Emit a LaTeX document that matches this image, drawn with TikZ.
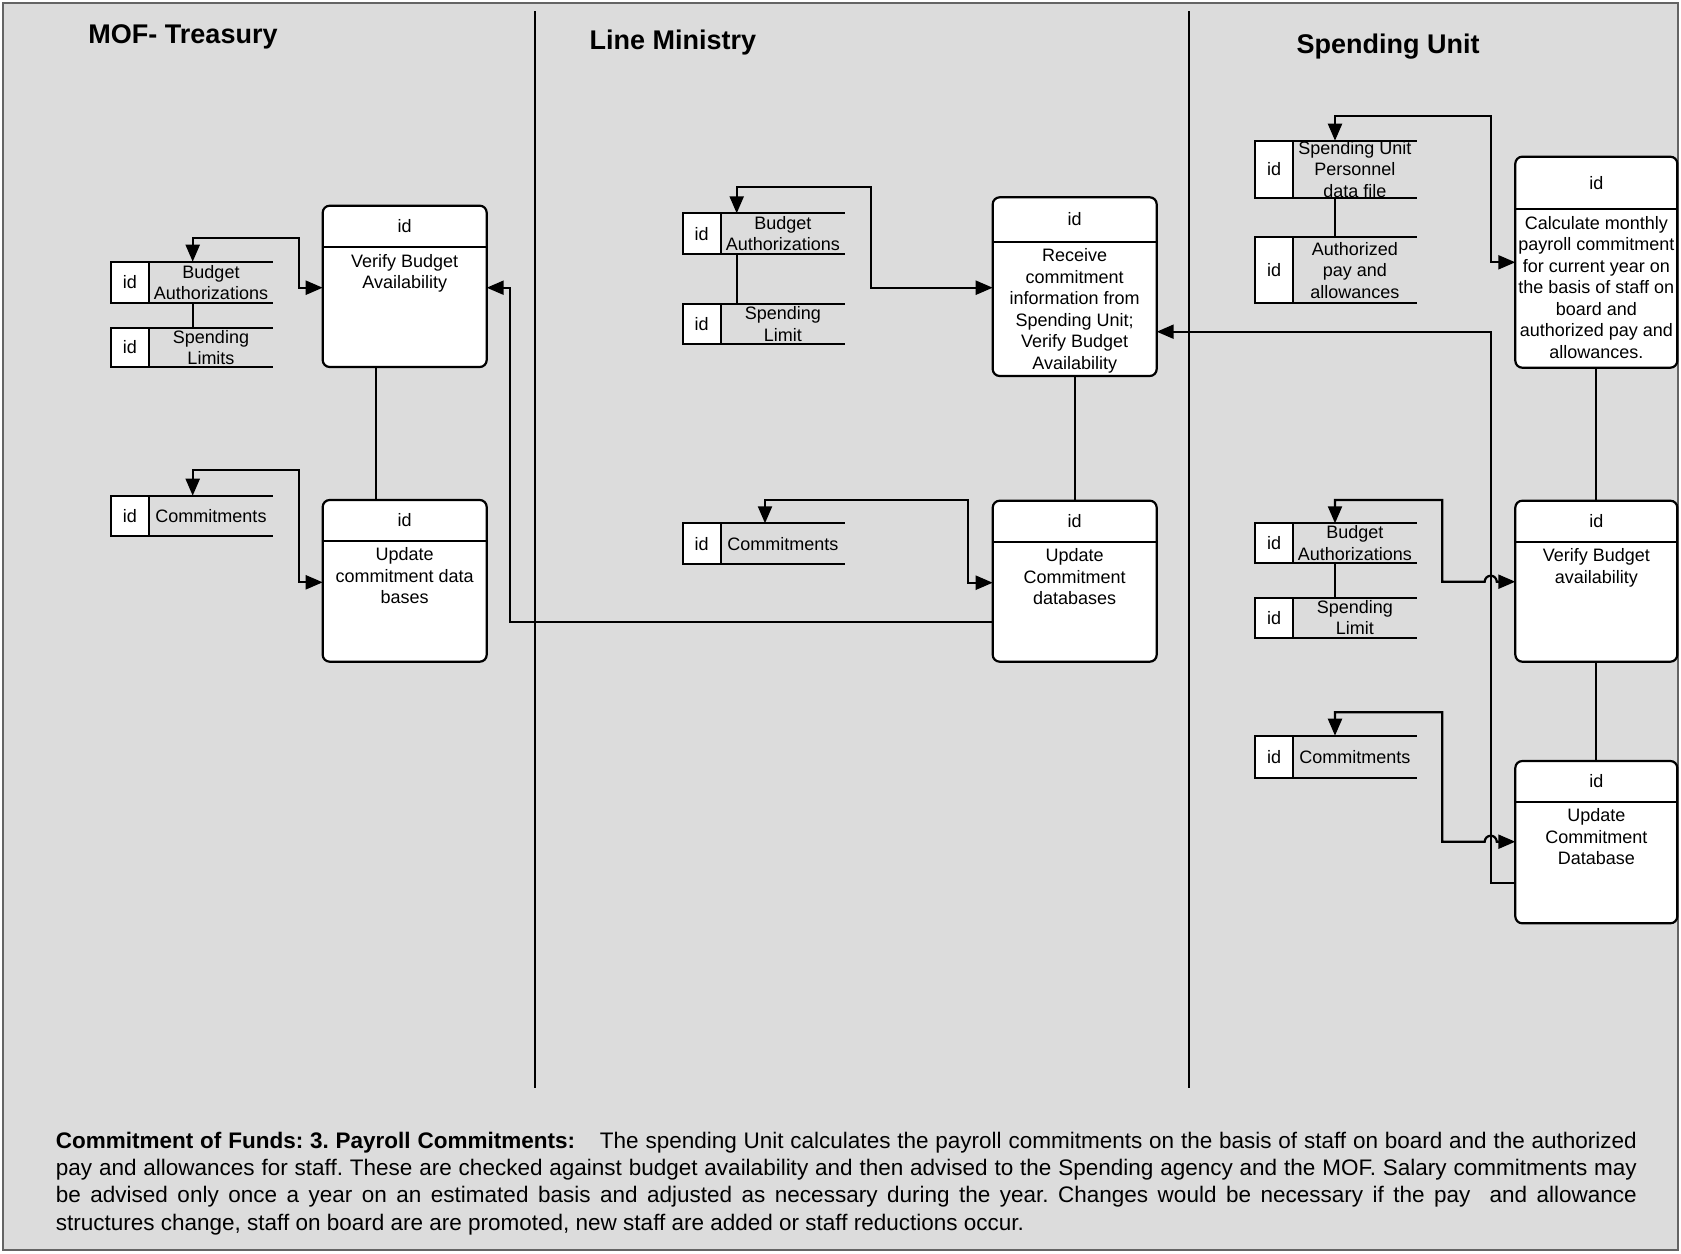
\documentclass[tikz,border=0pt]{standalone}
\usepackage{fontspec}
\setmainfont{Liberation Sans}
\usetikzlibrary{arrows.meta,calc}

\definecolor{panel}{RGB}{220,220,220}
\definecolor{frameline}{RGB}{100,100,100}

\tikzset{
  wire/.style={line width=2.2pt},
  flow/.style={wire, -{Triangle[length=17pt,width=14pt]}},
  twoway/.style={wire, {Triangle[length=17pt,width=14pt]}-{Triangle[length=17pt,width=14pt]}},
  process/.style={draw, line width=2.2pt, fill=white, rounded corners=7pt, inner sep=0pt, outer sep=0pt},
  bodytext/.style={font=\fontsize{18}{21.5}\selectfont, align=center, inner sep=0pt},
  storearea/.style={inner sep=0pt, outer sep=0pt},
  storeid/.style={draw, line width=2.2pt, fill=white, inner sep=0pt, outer sep=0pt,
    minimum width=38pt, font=\fontsize{18}{21.5}\selectfont},
  lanetitle/.style={font=\fontsize{27}{32}\selectfont\bfseries, inner sep=0pt},
}

% data store: name, left, top, width, height, label
\newcommand\dstore[6]{%
  \node[storearea, anchor=north west, minimum width=#4pt, minimum height=#5pt] (#1) at (#2,#3) {};
  \node[storeid, anchor=north west, minimum height=#5pt] (#1-id) at (#1.north west) {id};
  \draw[wire] (#1.north west) -- (#1.north east) (#1.south west) -- (#1.south east);
  \node[bodytext] (#1-name) at ($(#1-id.east)!0.5!(#1.east)$) {#6};
}

% process box: name, left, top, width, height, header height, text
\newcommand\procbox[7]{%
  \node[process, anchor=north west, minimum width=#4pt, minimum height=#5pt] (#1) at (#2,#3) {};
  \draw[wire] ([yshift=-#6pt]#1.north west) -- ([yshift=-#6pt]#1.north east);
  \node[bodytext] (#1-id) at ([yshift=-0.5*#6pt]#1.north) {id};
  \node[bodytext, anchor=north] (#1-text) at ([yshift=-#6pt-6.8pt]#1.north) {#7};
}

\begin{document}
\begin{tikzpicture}[x=1pt,y=-1pt]
  \useasboundingbox (0,0) rectangle (1681,1253);
  \fill[white] (0,0) rectangle (1681,1253);
  \draw[frameline, fill=panel, line width=2.5pt] (3,3) rectangle (1678,1250);

  % swimlane separators
  \draw[wire] (535,11) -- (535,1088);
  \draw[wire] (1189,11) -- (1189,1088);

  % lane titles
  \node[lanetitle, anchor=base] (titleMOF) at (183,43.7) {MOF- Treasury};
  \node[lanetitle, anchor=base] (titleLM) at (673,49.4) {Line Ministry};
  \node[lanetitle, anchor=base] (titleSU) at (1388,53.7) {Spending Unit};

  % ---- MOF - Treasury ----
  \procbox{mofVerify}{322.7}{205.7}{164}{161.3}{41.6}{Verify Budget\\Availability}
  \procbox{mofUpdate}{322.7}{500}{164}{161.7}{40.7}{Update\\commitment data\\bases}
  \dstore{mofBA}{111}{261.7}{162}{41.6}{Budget\\Authorizations}
  \dstore{mofSL}{111}{327.7}{162}{39.6}{Spending\\Limits}
  \dstore{mofCom}{111}{495.7}{162}{40}{Commitments}

  % ---- Line Ministry ----
  \procbox{lmReceive}{992.7}{197.3}{164}{178.7}{44.4}{Receive\\commitment\\information from\\Spending Unit;\\Verify Budget\\Availability}
  \procbox{lmUpdate}{992.7}{500.7}{164}{161}{41}{Update\\Commitment\\databases}
  \dstore{lmBA}{682.7}{213.3}{162.3}{40.7}{Budget\\Authorizations}
  \dstore{lmSL}{682.7}{304}{162.3}{40}{Spending\\Limit}
  \dstore{lmCom}{682.7}{523.3}{162.3}{40.7}{Commitments}

  % ---- Spending Unit ----
  \procbox{suCalc}{1515.3}{156.7}{162}{211}{52.6}{Calculate monthly\\payroll commitment\\for current year on\\the basis of staff on\\board and\\authorized pay and\\allowances.}
  \procbox{suVerify}{1515.3}{500.7}{162}{161}{41}{Verify Budget\\availability}
  \procbox{suUpdate}{1515.3}{761}{162}{162.3}{40.7}{Update\\Commitment\\Database}
  \dstore{suPers}{1255}{140.7}{161.7}{57}{Spending Unit\\Personnel\\data file}
  \dstore{suPay}{1255}{237.3}{161.7}{66}{Authorized\\pay and\\allowances}
  \dstore{suBA}{1255}{523.3}{161.7}{40}{Budget\\Authorizations}
  \dstore{suSL}{1255}{597.7}{161.7}{40}{Spending\\Limit}
  \dstore{suCom}{1255}{735.7}{161.7}{42}{Commitments}

  % ---- connectors: MOF ----
  \draw[wire] ([xshift=81.7pt]mofBA.south west) -- ([xshift=81.7pt]mofSL.north west);
  \draw[twoway] ([xshift=81.7pt]mofBA.north west) |- (299,237.7) |- ([yshift=-82pt]mofVerify.north west);
  \draw[twoway] ([xshift=81.7pt]mofCom.north west) |- (299,470) |- ([yshift=-82.3pt]mofUpdate.north west);
  \draw[wire] ([xshift=53.3pt]mofVerify.south west) -- ([xshift=53.3pt]mofUpdate.north west);

  % ---- connectors: Line Ministry ----
  \draw[wire] ([xshift=54pt]lmBA.south west) -- ([xshift=54pt]lmSL.north west);
  \draw[twoway] ([xshift=54pt]lmBA.north west) |- (871,187.3) |- ([yshift=-90.4pt]lmReceive.north west);
  \draw[twoway] ([xshift=82.3pt]lmCom.north west) |- (968.3,500) |- ([yshift=-82pt]lmUpdate.north west);
  \draw[wire] (lmReceive.south) -- (lmUpdate.north);
  \draw[flow] ([yshift=-121pt]lmUpdate.north west) -| (510,287.7) -- ([yshift=-82pt]mofVerify.north east);

  % ---- connectors: Spending Unit ----
  \draw[wire] ([xshift=80pt]suPers.south west) -- ([xshift=80pt]suPay.north west);
  \draw[twoway] ([xshift=80pt]suPers.north west) |- (1490.7,115.7) |- ([yshift=-105.6pt]suCalc.north west);
  \draw[wire] ([xshift=80pt]suBA.south west) -- ([xshift=80pt]suSL.north west);
  \draw[twoway] ([xshift=80pt]suBA.north west) |- (1442.3,500) |- (1484.7,581.7)
    arc[start angle=180, end angle=0, radius=6pt] -- ([yshift=-81pt]suVerify.north west);
  \draw[twoway] ([xshift=80pt]suCom.north west) |- (1442.3,712.3) |- (1484.7,841.7)
    arc[start angle=180, end angle=0, radius=6pt] -- ([yshift=-80.7pt]suUpdate.north west);
  \draw[wire] (suCalc.south) -- (suVerify.north);
  \draw[wire] (suVerify.south) -- (suUpdate.north);
  \draw[flow] ([yshift=-122.3pt]suUpdate.north west) -| (1490.7,331.7) -- ([yshift=-134.4pt]lmReceive.north east);

  % ---- caption ----
  \node[anchor=north west, inner sep=0pt, text width=1581pt, align=justify,
        font=\fontsize{22.5}{27.4}\selectfont\frenchspacing] (caption) at (55.7,1128.8)
    {\noindent\strut\textbf{Commitment of Funds: 3. Payroll Commitments:}\hspace{18pt} The spending Unit calculates the payroll commitments on the basis of staff on board and the authorized\linebreak
     pay and allowances for staff. These are checked against budget availability and then advised to the Spending agency and the MOF. Salary commitments may\linebreak
     be advised only once a year on an estimated basis and adjusted as necessary during the year. Changes would be necessary if the pay\ \ and allowance\linebreak
     structures change, staff on board are are promoted, new staff are added or staff reductions occur.};
\end{tikzpicture}
\end{document}
